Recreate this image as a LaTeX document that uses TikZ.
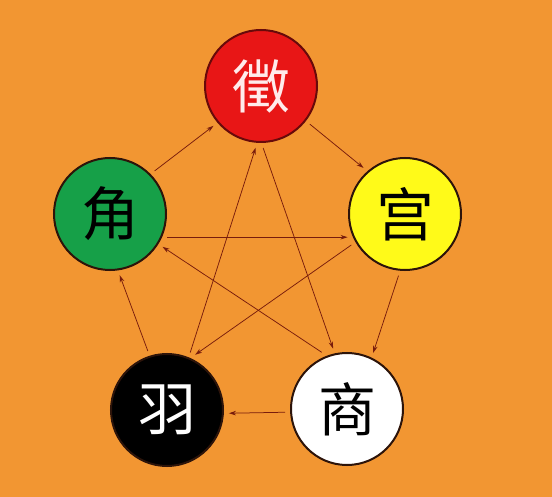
\documentclass[tikz,border=0pt]{standalone}
\usepackage{fontspec}
\newfontfamily\cjk{Noto Sans CJK SC}
\usetikzlibrary{arrows.meta}
\definecolor{bgorange}{RGB}{242,150,50}
\definecolor{zhired}{RGB}{232,22,22}
\definecolor{gongyellow}{RGB}{255,250,25}
\definecolor{jiaogreen}{RGB}{22,160,72}
\definecolor{linkred}{RGB}{120,28,12}
\definecolor{rimdark}{RGB}{45,20,10}
\tikzset{
	every node/.style = {font=\cjk\fontsize{58}{58}\selectfont},
	tone/.style = {circle, draw=rimdark, line width=2pt, minimum size=112pt, inner sep=0pt, outer sep=6pt},
	link/.style = {-{Stealth[length=7pt,width=4.5pt]}, draw=linkred, line width=0.75pt}
}

\begin{document}
\begin{tikzpicture}[x=1pt, y=-1pt]
		% background
		\fill[bgorange] (0,0) rectangle (552,497);
		\useasboundingbox (0,0) rectangle (552,497);
		% the five tones
		\node[tone, fill=zhired, draw=zhired!45!black, text=red!8!white] (zhi) at (261,86) {徵};
		\node[tone, fill=gongyellow] (gong) at (405,214) {宫};
		\node[tone, fill=jiaogreen] (jiao) at (110,214) {角};
		\node[tone, fill=black, text=white] (yu) at (167,410) {羽};
		\node[tone, fill=white] (shang) at (347,409) {商};
		% outer ring
		\foreach \a/\b in {jiao.44/zhi.220, zhi.322/gong.132, gong.264/shang.65, shang.183/yu.357, yu.108/jiao.279}
			\draw[link] (\a) -- (\b);
		% star
		\foreach \a/\b in {jiao.338/gong.202, gong.210/yu.63, yu.68/zhi.265, zhi.272/shang.103, shang.114/jiao.328}
			\draw[link] (\a) -- (\b);
	\end{tikzpicture}
\end{document}
